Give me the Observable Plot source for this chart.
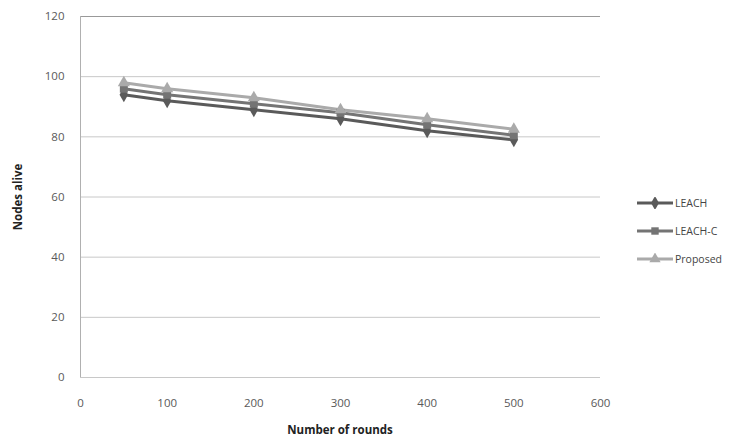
<!DOCTYPE html>
<html><head><meta charset="utf-8">
<script src="https://cdn.jsdelivr.net/npm/d3@7"></script>
<script src="https://cdn.jsdelivr.net/npm/@observablehq/plot@0.6"></script>
<style>
body{margin:0;background:#fff;font-family:"Open Sans",sans-serif;}
#wrap{position:relative;width:737px;height:441px;}
#legend{position:absolute;left:637px;top:189px;font-size:10.5px;color:#444;}
.item{display:flex;align-items:center;height:28px;}
.item svg{margin-right:2px;}
</style></head>
<body><div id="wrap"><div id="legend"></div></div>
<script>
const rounds = [50, 100, 200, 300, 400, 500];
const leach = [94, 92, 89, 86, 82, 79];
const leachC = [96, 94, 91, 88, 84, 80.5];
const proposed = [98, 96, 93, 89, 86, 82.5];
const seriesNames = ["LEACH", "LEACH-C", "Proposed"];
const seriesColors = ["#5a5a5a", "#747474", "#aaaaaa"];
const seriesSymbols = ["diamond", "square", "triangle"];
const yTicks = [0, 20, 40, 60, 80, 100, 120];
const xTicks = [0, 100, 200, 300, 400, 500, 600];

const vals = [leach, leachC, proposed];
const data = [];
seriesNames.forEach((s, i) => rounds.forEach((r, j) => data.push({series: s, x: r, y: vals[i][j]})));

const chart = Plot.plot({
  width: 737, height: 441,
  marginLeft: 80, marginRight: 137, marginTop: 16, marginBottom: 64,
  style: {fontFamily: "'Open Sans', sans-serif", fontSize: "11.5px", color: "#595959"},
  x: {domain: [0, 600], label: null},
  y: {domain: [0, 120], label: null},
  color: {domain: seriesNames, range: seriesColors},
  symbol: {domain: seriesNames, range: seriesSymbols},
  marks: [
    Plot.ruleY(yTicks, {stroke: "#c8c8c8", strokeWidth: 1}),
    Plot.ruleY([120], {stroke: "#999999", strokeWidth: 1}),
    Plot.ruleX([0], {stroke: "#b0b0b0", strokeWidth: 1}),
    Plot.lineY(data, {x: "x", y: "y", z: "series", stroke: "series", strokeWidth: 3}),
    Plot.dot(data, {x: "x", y: "y", fill: "series", symbol: "series", r: 4.5, stroke: "none"}),
    Plot.axisX({ticks: xTicks, tickSize: 0, tickPadding: 21, label: null}),
    Plot.axisY({ticks: yTicks, tickSize: 0, tickPadding: 16, label: null})
  ]
});
const wrap = document.getElementById("wrap");
wrap.insertBefore(chart, wrap.firstChild);

const svg = d3.select(chart);
svg.append("text").attr("x", 340).attr("y", 434).attr("text-anchor", "middle")
  .attr("font-weight", "bold").attr("font-size", 11.5).attr("fill", "#222")
  .text("Number of rounds");
svg.append("text").attr("transform", "translate(22,197) rotate(-90)").attr("text-anchor", "middle")
  .attr("font-weight", "bold").attr("font-size", 11.5).attr("fill", "#222")
  .text("Nodes alive");

const legend = d3.select("#legend");
seriesNames.forEach((s, i) => {
  const it = legend.append("div").attr("class", "item");
  const sw = it.append("svg").attr("width", 36).attr("height", 12);
  sw.append("line").attr("x1", 0).attr("x2", 36).attr("y1", 6).attr("y2", 6)
    .attr("stroke", seriesColors[i]).attr("stroke-width", 3);
  sw.append("path").attr("transform", "translate(18,6)")
    .attr("d", d3.symbol(i === 0 ? d3.symbolDiamond : i === 1 ? d3.symbolSquare : d3.symbolTriangle, 55)())
    .attr("fill", seriesColors[i]);
  it.append("span").text(s);
});
</script></body></html>
